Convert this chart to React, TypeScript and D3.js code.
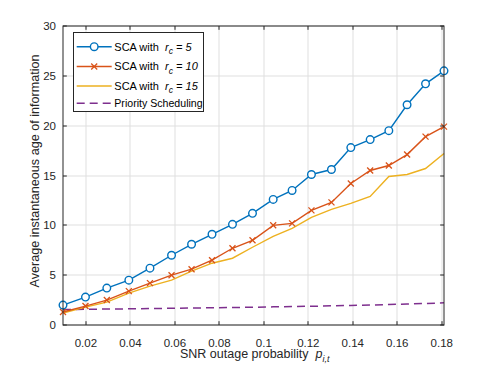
import React from "react";
import * as d3 from "d3";

const xVals = [0.0097, 0.0198, 0.0294, 0.0393, 0.0488, 0.0585, 0.0675, 0.0767, 0.0859, 0.0949, 0.1042, 0.1127, 0.1214, 0.1304, 0.1391, 0.1478, 0.1562, 0.1644, 0.1727, 0.181];
const sca5 = [2.0, 2.8, 3.7, 4.5, 5.7, 7.0, 8.1, 9.1, 10.1, 11.2, 12.6, 13.5, 15.1, 15.6, 17.8, 18.6, 19.5, 22.1, 24.2, 25.5];
const sca10 = [1.3, 1.9, 2.5, 3.4, 4.2, 5.0, 5.6, 6.5, 7.7, 8.5, 10.0, 10.2, 11.5, 12.3, 14.2, 15.5, 16.0, 17.1, 18.9, 19.9];
const sca15 = [1.2, 1.8, 2.3, 3.2, 3.9, 4.5, 5.4, 6.2, 6.7, 7.8, 8.9, 9.7, 10.8, 11.6, 12.2, 12.9, 14.9, 15.1, 15.7, 17.2];
const priority = [1.55, 1.58, 1.6, 1.62, 1.65, 1.68, 1.7, 1.73, 1.76, 1.78, 1.82, 1.85, 1.88, 1.92, 1.96, 2.0, 2.05, 2.1, 2.16, 2.22];

const xTicks = [0.02, 0.04, 0.06, 0.08, 0.1, 0.12, 0.14, 0.16, 0.18];
const xTickLabels = ["0.02", "0.04", "0.06", "0.08", "0.1", "0.12", "0.14", "0.16", "0.18"];
const yTicks = [0, 5, 10, 15, 20, 25, 30];

const legendRc = ["5", "10", "15"];

const W = 491, H = 368;
const L = 63, R = 444, T = 26, B = 325;
const BLUE = "#0072BD", ORANGE = "#D95319", YELLOW = "#EDB120", PURPLE = "#7E2F8E";
const FONT = "'Liberation Sans', Arial, Helvetica, sans-serif";
const AX = "#262626";

export default function App() {
  const x = d3.scaleLinear().domain([0.0097, 0.181]).range([L, R]);
  const y = d3.scaleLinear().domain([0, 30]).range([B, T]);
  const line = d3.line<number>().x((_, i) => x(xVals[i])).y((d) => y(d));
  const tl = 3.8;

  const legendRows = [
    { color: BLUE, marker: "o", rc: legendRc[0], cy: 46.7 },
    { color: ORANGE, marker: "x", rc: legendRc[1], cy: 66.5 },
    { color: YELLOW, marker: "", rc: legendRc[2], cy: 86 },
  ];

  return (
    <svg width={W} height={H} style={{ position: "absolute", left: 0, top: 0, fontFamily: FONT }}>
      <rect x={0} y={0} width={W} height={H} fill="#fff" />
      {xTicks.map((t) => (
        <line key={"gx" + t} x1={Math.round(x(t))} x2={Math.round(x(t))} y1={T} y2={B} stroke="#dfdfdf" strokeWidth={1} />
      ))}
      {yTicks.map((t) => (
        <line key={"gy" + t} x1={L} x2={R} y1={Math.round(y(t))} y2={Math.round(y(t))} stroke="#dfdfdf" strokeWidth={1} />
      ))}
      <path d={line(priority) || ""} fill="none" stroke={PURPLE} strokeWidth={1.5} strokeDasharray="8,5" />
      <path d={line(sca15) || ""} fill="none" stroke={YELLOW} strokeWidth={1.4} />
      <path d={line(sca10) || ""} fill="none" stroke={ORANGE} strokeWidth={1.4} />
      {sca10.map((v, i) => {
        const cx = x(xVals[i]), cy = y(v), s = 3;
        return (
          <g key={"m10" + i} stroke={ORANGE} strokeWidth={1.3}>
            <line x1={cx - s} y1={cy - s} x2={cx + s} y2={cy + s} />
            <line x1={cx - s} y1={cy + s} x2={cx + s} y2={cy - s} />
          </g>
        );
      })}
      <path d={line(sca5) || ""} fill="none" stroke={BLUE} strokeWidth={1.4} />
      {sca5.map((v, i) => (
        <circle key={"m5" + i} cx={x(xVals[i])} cy={y(v)} r={3.8} fill="#fff" stroke={BLUE} strokeWidth={1.4} />
      ))}
      <rect x={L} y={T} width={R - L} height={B - T} fill="none" stroke={AX} strokeWidth={1} />
      {xTicks.map((t) => {
        const px = Math.round(x(t));
        return (
          <g key={"tx" + t} stroke={AX} strokeWidth={1}>
            <line x1={px} x2={px} y1={B} y2={B - tl} />
            <line x1={px} x2={px} y1={T} y2={T + tl} />
          </g>
        );
      })}
      {yTicks.map((t) => {
        const py = Math.round(y(t));
        return (
          <g key={"ty" + t} stroke={AX} strokeWidth={1}>
            <line x1={L} x2={L + tl} y1={py} y2={py} />
            <line x1={R} x2={R - tl} y1={py} y2={py} />
          </g>
        );
      })}
      {xTicks.map((t, i) => (
        <text key={"lx" + t} x={x(t)} y={346.5} fontSize={11.5} fill={AX} textAnchor="middle">
          {xTickLabels[i]}
        </text>
      ))}
      {yTicks.map((t) => (
        <text key={"ly" + t} x={56} y={y(t) + 4} fontSize={11.5} fill={AX} textAnchor="end">
          {t}
        </text>
      ))}
      <text x={180} y={358} fontSize={12.5} fill={AX}>
        SNR outage probability{"\u00a0\u00a0"}
        <tspan fontStyle="italic">p</tspan>
        <tspan fontStyle="italic" fontSize={9} dy={3.5}>i,t</tspan>
      </text>
      <text transform={`translate(39,171) rotate(-90)`} fontSize={12.6} fill={AX} textAnchor="middle">
        Average instantaneous age of information
      </text>
      <rect x={73.5} y={32.5} width={130} height={79} fill="#fff" stroke={AX} strokeWidth={1} />
      {legendRows.map((r, i) => (
        <g key={"leg" + i}>
          <line x1={76.7} x2={111.7} y1={r.cy} y2={r.cy} stroke={r.color} strokeWidth={1.4} />
          {r.marker === "o" && <circle cx={94.2} cy={r.cy} r={3.8} fill="#fff" stroke={r.color} strokeWidth={1.4} />}
          {r.marker === "x" && (
            <g stroke={r.color} strokeWidth={1.3}>
              <line x1={91.2} y1={r.cy - 3} x2={97.2} y2={r.cy + 3} />
              <line x1={91.2} y1={r.cy + 3} x2={97.2} y2={r.cy - 3} />
            </g>
          )}
          <text x={114.3} y={r.cy + 3.8} fontSize={11} fill="#000">
            SCA with{"\u00a0\u00a0"}
            <tspan fontStyle="italic">r</tspan>
            <tspan fontStyle="italic" fontSize={8.5} dy={3.5}>c</tspan>
            <tspan fontStyle="italic" dy={-3.5}>{" = " + r.rc}</tspan>
          </text>
        </g>
      ))}
      <line x1={76.7} x2={111.7} y1={103.3} y2={103.3} stroke={PURPLE} strokeWidth={1.5} strokeDasharray="8,5" />
      <text x={114.3} y={107.2} fontSize={10.6} fill="#000">Priority Scheduling</text>
    </svg>
  );
}
